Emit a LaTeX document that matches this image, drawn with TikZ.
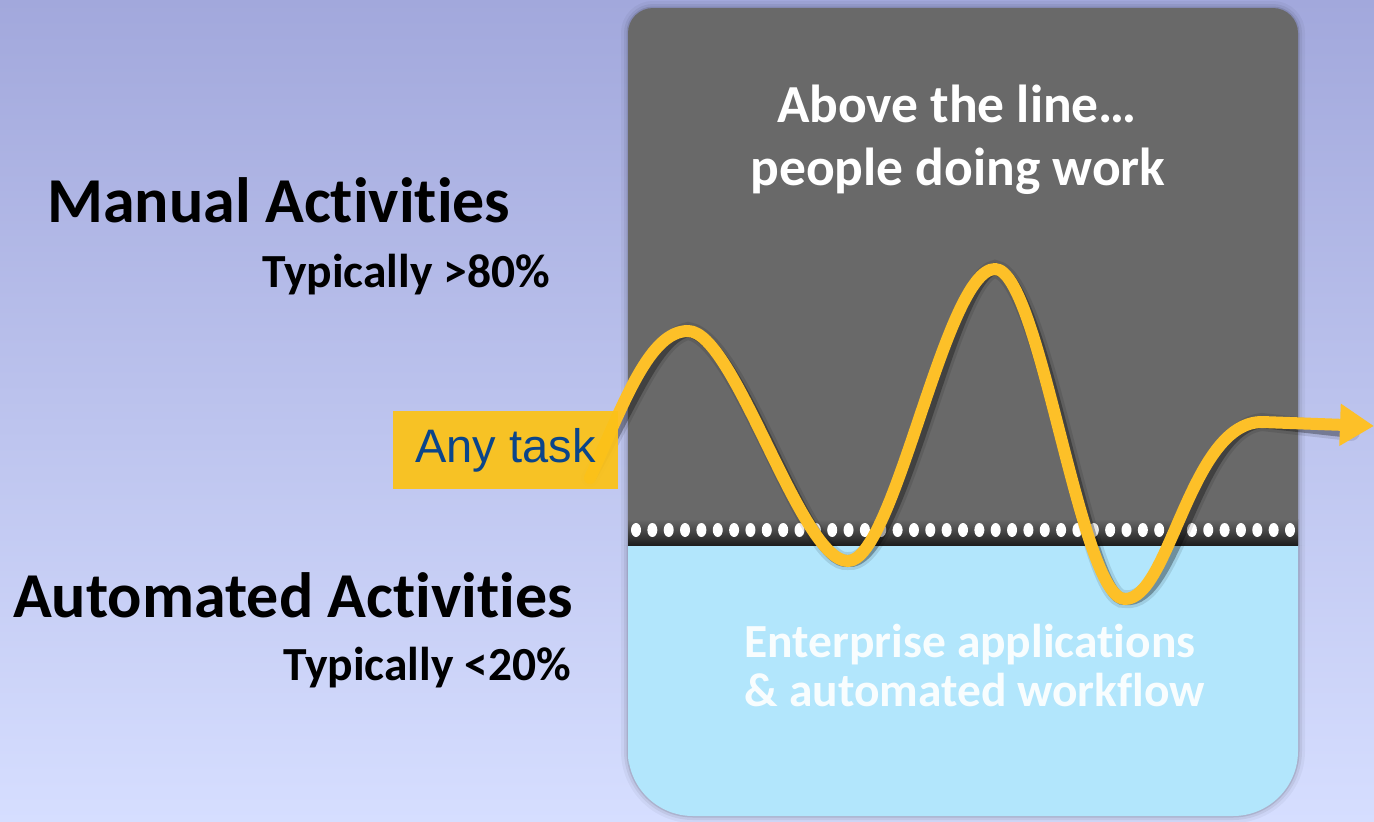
\documentclass[tikz,border=0pt]{standalone}
\usepackage{fontspec}
\setmainfont{Carlito}[Ligatures=NoCommon]
\newfontfamily\arialfont{Liberation Sans}
\usetikzlibrary{arrows.meta}
\definecolor{bgtop}{RGB}{162,168,220}
\definecolor{bgmid}{RGB}{203,210,246}
\definecolor{bgbot}{RGB}{214,222,255}
\definecolor{boxgray}{RGB}{105,105,105}
\definecolor{boxblue}{RGB}{178,230,252}
\definecolor{curvey}{RGB}{253,192,40}
\definecolor{taskfill}{RGB}{251,194,25}
\definecolor{taskblue}{RGB}{11,69,138}
\tikzset{
  bigbold/.style={font=\fontsize{64}{66}\selectfont\bfseries, text=black, inner sep=0pt},
  smallbold/.style={font=\fontsize{47.5}{50}\selectfont\bfseries, text=black, inner sep=0pt},
  abovetxt/.style={font=\fontsize{53.5}{56}\selectfont\bfseries, text=white, inner sep=0pt},
  belowtxt/.style={font=\fontsize{47.5}{50}\selectfont\bfseries, text=white, text opacity=0.92, inner sep=0pt},
  taskbox/.style={fill=taskfill, fill opacity=0.94, text opacity=1, text=taskblue, font=\arialfont\fontsize{47}{50}\selectfont, minimum width=225pt, minimum height=78pt, inner sep=0pt},
  wave/.style={draw=curvey, line width=12pt, line cap=round, line join=round},
  waveshadow/.style={draw=black, line width=12pt, line cap=round, opacity=0.3},
  dot/.style={fill=white, draw=none}
}
\begin{document}
\begin{tikzpicture}[x=1pt,y=-1pt]
\useasboundingbox (0,0) rectangle (1374,822);
% background
\shade[top color=bgtop, middle color=bgmid, bottom color=bgbot] (0,0) rectangle (1374,822);
% box shadow
\foreach \w/\o in {14/0.04,8/0.06,3/0.1}{
  \draw[black, opacity=\o, line width=\w pt, rounded corners=25pt]
    (628,545) -- (628,8) -- (1298,8) -- (1298,545);
  \draw[black, opacity=\o, line width=\w pt, rounded corners=65pt]
    (628,545) -- (628,816) -- (1298,816) -- (1298,545);
}
% gray top part
\fill[boxgray] (628,545) -- (628,300) [rounded corners=25pt] -- (628,8) -- (1298,8) -- (1298,300) [sharp corners] -- (1298,545) -- cycle;
% blue bottom part
\fill[boxblue] (628,545) -- (1298,545) -- (1298,700) [rounded corners=65pt] -- (1298,816) -- (628,816) -- (628,700) [sharp corners] -- cycle;
% perforated line
\shade[top color=boxgray, bottom color=black!88] (628,519) rectangle (1298,545);
\foreach \i in {0,...,40}{
  \fill[dot] (636+\i*16.35,530) ellipse[x radius=5, y radius=7];
}
% texts left
\node[bigbold, anchor=base west] (manual) at (47,222) {Manual Activities};
\node[smallbold, anchor=base east] (man80) at (550,287) {Typically >80\%};
\node[bigbold, anchor=base west] (auto) at (13,617) {Automated Activities};
\node[smallbold, anchor=base east] (auto20) at (571,680) {Typically <20\%};
% texts in box
\node[abovetxt, anchor=base] (above1) at (957,122) {Above the line…};
\node[abovetxt, anchor=base] (above2) at (958,185) {people doing work};
\node[belowtxt, anchor=base] (below1) at (970,657) {Enterprise applications};
\node[belowtxt, anchor=base] (below2) at (975,706) {\& automated workflow};
% wave
\coordinate (w0) at (590,478);
\coordinate (p1) at (688,331);
\coordinate (t1) at (848,561);
\coordinate (p2) at (995,269);
\coordinate (t2) at (1125,599);
\coordinate (w5) at (1262,422);
\coordinate (tip) at (1374,426);
\begin{scope}[shift={(6pt,-7pt)}]
\draw[waveshadow, line width=18pt, opacity=0.1] (w0) .. controls (625,400) and (650,331) .. (p1)
  .. controls (735,331) and (800,561) .. (t1)
  .. controls (895,561) and (945,269) .. (p2)
  .. controls (1040,269) and (1080,599) .. (t2)
  .. controls (1170,599) and (1190,422) .. (w5) -- (1345,425);
\draw[waveshadow] (w0) .. controls (625,400) and (650,331) .. (p1)
  .. controls (735,331) and (800,561) .. (t1)
  .. controls (895,561) and (945,269) .. (p2)
  .. controls (1040,269) and (1080,599) .. (t2)
  .. controls (1170,599) and (1190,422) .. (w5) -- (1345,425);
\end{scope}
\draw[wave, -{Triangle[length=34pt,width=40pt]}] (w0) .. controls (625,400) and (650,331) .. (p1)
  .. controls (735,331) and (800,561) .. (t1)
  .. controls (895,561) and (945,269) .. (p2)
  .. controls (1040,269) and (1080,599) .. (t2)
  .. controls (1170,599) and (1190,422) .. (w5) -- (tip);
% any task box
\node[taskbox] (task) at (505.5,450) {Any task};
\end{tikzpicture}
\end{document}
